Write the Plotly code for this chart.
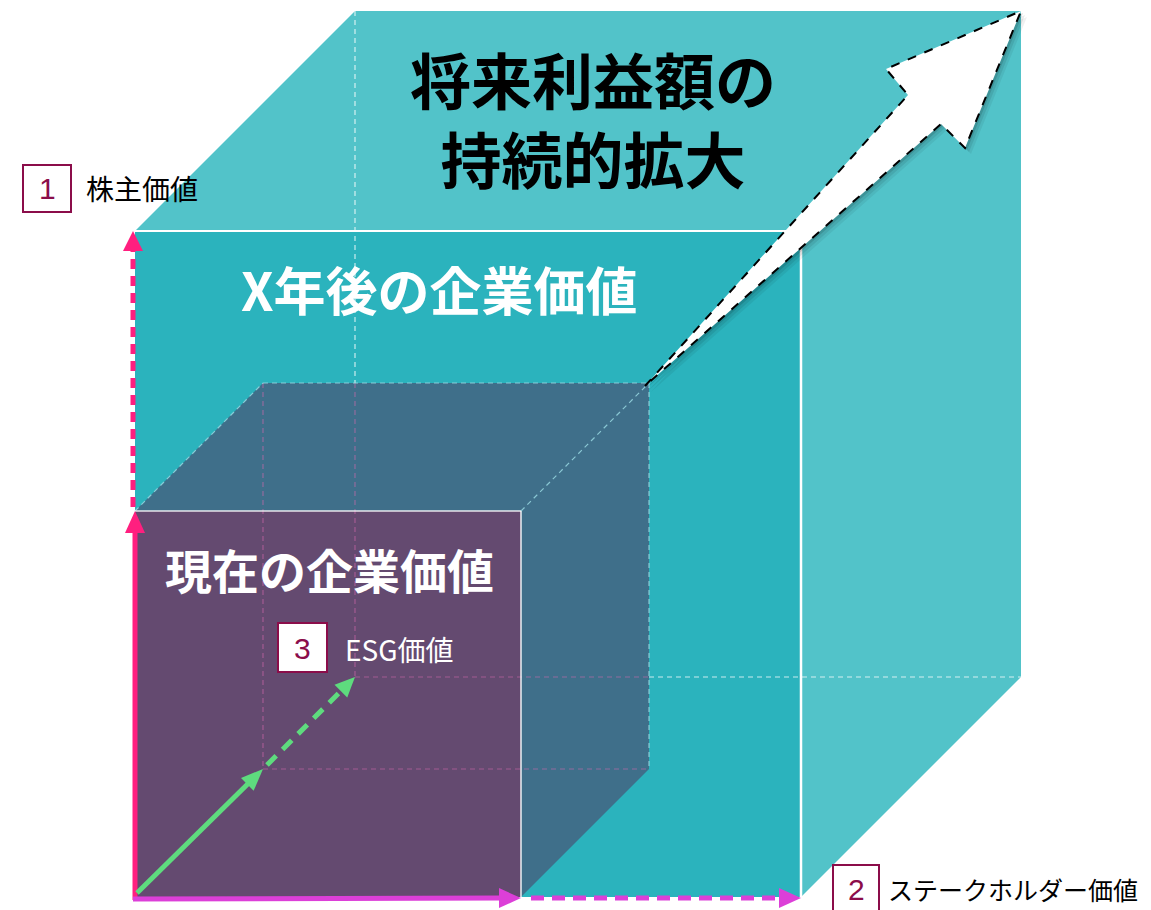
import plotly.graph_objects as go

# ---- data (diagram values) ----
cube_names = ["X年後の企業価値", "現在の企業価値"]
cube_sizes = [666, 386]          # front-face edge of each cube
cube_depths = [220, 128]         # 3D offset of each cube
origin = [135, 897]              # shared front-bottom-left corner
title_lines = ["将来利益額の", "持続的拡大"]
label_nums = ["1", "2", "3"]
label_texts = ["株主価値", "ステークホルダー価値", "ESG価値"]

W, H = 1151, 910
FONT = "Noto Sans CJK JP"
LIGHT = "#52C3C9"
FRONT = "#2BB3BD"
SIDE = "#3F6F8A"
PURPLE = "#644A70"
PINK = "#FF1F7F"
MAGENTA = "#DC3FD8"
GREEN = "#5EDB7E"
DARK = "#8B0D4A"

ox, oy = origin
shapes = []
annotations = []


def poly(pts):
    return "M " + " L ".join(f"{x},{y}" for x, y in pts) + " Z"


def add_poly(pts, fill, line_color="rgba(0,0,0,0)", width=0, dash="solid", layer="above"):
    shapes.append(dict(type="path", path=poly(pts), fillcolor=fill,
                       line=dict(color=line_color, width=width, dash=dash),
                       xref="x", yref="y", layer=layer))


def add_line(p0, p1, color, width=1, dash="solid"):
    shapes.append(dict(type="line", x0=p0[0], y0=p0[1], x1=p1[0], y1=p1[1],
                       line=dict(color=color, width=width, dash=dash),
                       xref="x", yref="y"))


def arrowhead(tail, tip, length, width, color):
    dx, dy = tip[0] - tail[0], tip[1] - tail[1]
    n = (dx * dx + dy * dy) ** 0.5
    ux, uy = dx / n, dy / n
    bx, by = tip[0] - ux * length, tip[1] - uy * length
    px, py = -uy * width / 2, ux * width / 2
    add_poly([tip, (bx + px, by + py), (bx - px, by - py)], color)


def arrow(tail, tip, color, width, dash="solid", hl=20, hw=19):
    dx, dy = tip[0] - tail[0], tip[1] - tail[1]
    n = (dx * dx + dy * dy) ** 0.5
    end = (tip[0] - dx / n * (hl - 2), tip[1] - dy / n * (hl - 2))
    add_line(tail, end, color, width, dash)
    arrowhead(tail, tip, hl, hw, color)


def cube(s, d):
    return dict(
        fl=(ox, oy), fr=(ox + s, oy), tl=(ox, oy - s), tr=(ox + s, oy - s),
        bfl=(ox + d, oy - d), bfr=(ox + s + d, oy - d),
        btl=(ox + d, oy - s - d), btr=(ox + s + d, oy - s - d),
    )


big = cube(cube_sizes[0], cube_depths[0])
small = cube(cube_sizes[1], cube_depths[1])

# ---- big cube ----
add_poly([big["fl"], big["fr"], big["bfr"], big["btr"], big["btl"], big["tl"]], LIGHT)
add_poly([big["fl"], big["fr"], big["tr"], big["tl"]], FRONT)
# hidden back edges of big cube (over teal)
WL = "rgba(255,255,255,0.75)"
add_line(big["btl"], (big["btl"][0], small["btl"][1]), WL, 1.2, "5px,4px")
add_line((small["bfr"][0], big["bfl"][1]), big["bfr"], WL, 1.2, "5px,4px")

# ---- small cube ----
add_poly([small["fl"], small["fr"], small["bfr"], small["btr"], small["btl"], small["tl"]], SIDE)
add_poly([small["fl"], small["fr"], small["tr"], small["tl"]], PURPLE)

# hidden edges seen through the small cube
PL = "rgba(215,105,175,0.55)"
add_line((big["btl"][0], small["btl"][1]), (big["btl"][0], big["bfl"][1]), PL, 1.2, "5px,4px")
add_line(big["bfl"], (small["bfr"][0], big["bfl"][1]), PL, 1.2, "5px,4px")
add_line(small["btl"], small["bfl"], PL, 1.2, "5px,4px")
add_line(small["bfl"], small["bfr"], PL, 1.2, "5px,4px")
# small cube top/right edges (light dashed)
TL_ = "rgba(150,215,225,0.85)"
add_line(small["tl"], small["btl"], TL_, 1.2, "5px,4px")
add_line(small["btl"], small["btr"], TL_, 1.2, "5px,4px")
add_line(small["tr"], small["btr"], TL_, 1.2, "5px,4px")
add_line(small["btr"], small["bfr"], TL_, 1.2, "5px,4px")

# visible white edges
add_line(big["tl"], big["tr"], "white", 2)
add_line(big["tr"], big["fr"], "white", 2.5)
add_line(small["tl"], small["tr"], "rgba(255,255,255,0.85)", 1.5)
add_line(small["tr"], small["fr"], "rgba(255,255,255,0.9)", 1.5)

# ---- big white growth arrow ----
tip = big["btr"]
garrow = [(645, 386), (908, 95), (886, 69), (tip[0], tip[1]), (965, 148), (941, 124)]
for off, a in [(6, 0.06), (4, 0.08), (2, 0.12)]:
    add_poly([(x + off, y + off) for x, y in garrow], f"rgba(0,0,0,{a})")
add_poly(garrow, "white", "black", 2, "dash")

# ---- axis arrows ----
# 1: shareholder value (vertical)
arrow((ox, oy + 3), small["tl"], PINK, 5, hl=22, hw=20)
arrow((ox - 2, small["tl"][1] - 4), (ox - 2, big["tl"][1]), PINK, 5, "10px,7px", hl=20, hw=20)
# 2: stakeholder value (horizontal)
arrow((ox - 2, oy + 2), (small["fr"][0], oy + 1), MAGENTA, 5, hl=22, hw=20)
arrow((small["fr"][0] + 10, oy + 1), (big["fr"][0], oy + 1), MAGENTA, 5, "13px,8px", hl=22, hw=20)
# 3: ESG value (depth)
arrow((ox + 2, oy - 4), small["bfl"], GREEN, 5, hl=22, hw=18)
arrow((small["bfl"][0] + 4, small["bfl"][1] - 4), big["bfl"], GREEN, 5, "13px,9px", hl=20, hw=18)

# ---- texts ----
annotations.append(dict(x=593, y=118, text="<br>".join(title_lines), showarrow=False,
                        font=dict(family=FONT, size=61, color="black", weight="bold"),
                        xanchor="center", yanchor="middle", align="center"))
annotations.append(dict(x=439, y=288, text=cube_names[0], showarrow=False,
                        font=dict(family=FONT, size=52, color="white", weight="bold"),
                        xanchor="center", yanchor="middle"))
annotations.append(dict(x=329, y=568, text=cube_names[1], showarrow=False,
                        font=dict(family=FONT, size=47, color="white", weight="bold"),
                        xanchor="center", yanchor="middle"))

# label boxes
boxes = [(23, 165, 71, 212), (833, 865, 879, 915), (278, 623, 327, 672)]
text_pos = [(84, 188, "black", 28), (886, 889, "black", 25), (343, 649, "white", 28)]
num_y = [188, 889, 648]
for (x0, y0, x1, y1), num, lab, (tx, ty, tc, ts), ny in zip(boxes, label_nums, label_texts, text_pos, num_y):
    shapes.append(dict(type="rect", x0=x0, y0=y0, x1=x1, y1=y1, xref="x", yref="y",
                       fillcolor="white", line=dict(color=DARK, width=2)))
    annotations.append(dict(x=(x0 + x1) / 2, y=ny, text=num, showarrow=False,
                            font=dict(family="Liberation Sans", size=30, color=DARK),
                            xanchor="center", yanchor="middle"))
    annotations.append(dict(x=tx, y=ty, text=lab, showarrow=False,
                            font=dict(family=FONT, size=ts, color=tc),
                            xanchor="left", yanchor="middle"))

fig = go.Figure()
fig.add_trace(go.Scatter(x=[0, W], y=[0, H], mode="markers", marker=dict(opacity=0),
                         hoverinfo="skip", showlegend=False))
fig.update_layout(
    width=W, height=H, margin=dict(l=0, r=0, t=0, b=0),
    paper_bgcolor="white", plot_bgcolor="white",
    xaxis=dict(range=[0, W], visible=False, fixedrange=True),
    yaxis=dict(range=[H, 0], visible=False, fixedrange=True),
    shapes=shapes, annotations=annotations, showlegend=False,
)
fig.write_html("out.html")
